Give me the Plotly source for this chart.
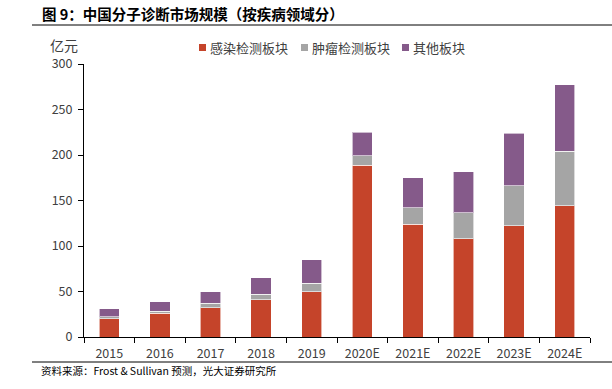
import plotly.graph_objects as go

years = ["2015", "2016", "2017", "2018", "2019", "2020E", "2021E", "2022E", "2023E", "2024E"]
infection = [20, 26, 32, 41, 50, 189, 124, 108, 122, 144]
tumor = [2, 2.5, 5, 6, 9, 10, 18, 28.5, 44, 60]
other = [9, 10, 13, 18, 26, 26, 33, 45, 58, 73]
series_names = ["感染检测板块", "肿瘤检测板块", "其他板块"]
colors = ["#C5442A", "#A5A5A5", "#855A8A"]
y_ticks = [0, 50, 100, 150, 200, 250, 300]

FONT = "Noto Sans CJK SC"

fig = go.Figure()
for name, vals, c in zip(series_names, [infection, tumor, other], colors):
    fig.add_trace(go.Bar(
        x=years, y=vals, name=name,
        marker=dict(color=c, line=dict(color="rgba(255,255,255,0.6)", width=1)),
    ))

W, H = 612, 389
AX_L, AX_R, AX_T, AX_B = 84, 590, 64, 337  # page px
L, T, R, B = AX_L, AX_T, W - AX_R, H - AX_B
pw = AX_R - AX_L
ph = AX_B - AX_T


def xp(px):
    return (px - AX_L) / pw


def yp(py):
    return (AX_B - py) / ph


annotations = [
    dict(text="<b>图 9：中国分子诊断市场规模（按疾病领域分）</b>", xref="paper", yref="paper",
         x=xp(40), y=yp(14), xanchor="left", yanchor="middle", showarrow=False,
         font=dict(size=14.5, color="#000000", family=FONT)),
    dict(text="亿元", xref="paper", yref="paper", x=xp(48), y=yp(45),
         xanchor="left", yanchor="middle", showarrow=False,
         font=dict(size=14, color="#404040", family=FONT)),
    dict(text="资料来源：Frost & Sullivan 预测，光大证券研究所", xref="paper", yref="paper",
         x=xp(39), y=yp(370), xanchor="left", yanchor="middle", showarrow=False,
         font=dict(size=10.5, color="#000000", family=FONT)),
]
shapes = [
    dict(type="line", xref="paper", yref="paper", x0=xp(32), x1=xp(612), y0=yp(25), y1=yp(25),
         line=dict(color="#000000", width=1)),
    dict(type="line", xref="paper", yref="paper", x0=xp(32), x1=xp(612), y0=yp(362), y1=yp(362),
         line=dict(color="#000000", width=1)),
]

legend_sq_x = [199, 301, 402]
for name, c, sx in zip(series_names, colors, legend_sq_x):
    shapes.append(dict(type="rect", xref="paper", yref="paper",
                       x0=xp(sx), x1=xp(sx + 7), y0=yp(51), y1=yp(44),
                       fillcolor=c, line=dict(width=0)))
    annotations.append(dict(text=name, xref="paper", yref="paper", x=xp(sx + 9), y=yp(47),
                            xanchor="left", yanchor="middle", showarrow=False,
                            font=dict(size=13, color="#404040", family=FONT)))

fig.update_layout(
    width=W, height=H,
    margin=dict(l=L, r=R, t=T, b=B, pad=0),
    paper_bgcolor="white", plot_bgcolor="white",
    barmode="stack", bargap=0.6,
    font=dict(family=FONT, size=12, color="#404040"),
    showlegend=False,
    xaxis=dict(type="category", showline=True, linecolor="#000000", linewidth=1,
               ticks="outside", tickson="boundaries", ticklen=5, tickcolor="#000000",
               showgrid=False, ticklabelstandoff=5,
               tickfont=dict(size=12.5, color="#404040", family=FONT)),
    yaxis=dict(range=[0, 300], tickvals=y_ticks, showline=True, linecolor="#000000", linewidth=1,
               ticks="outside", ticklen=5, tickcolor="#000000", showgrid=False, zeroline=False,
               ticklabelstandoff=3,
               tickfont=dict(size=12.5, color="#404040", family=FONT)),
    annotations=annotations,
    shapes=shapes,
)

fig.write_html("out.html", config={"displayModeBar": False},
               post_script="document.body.style.margin='0';")
